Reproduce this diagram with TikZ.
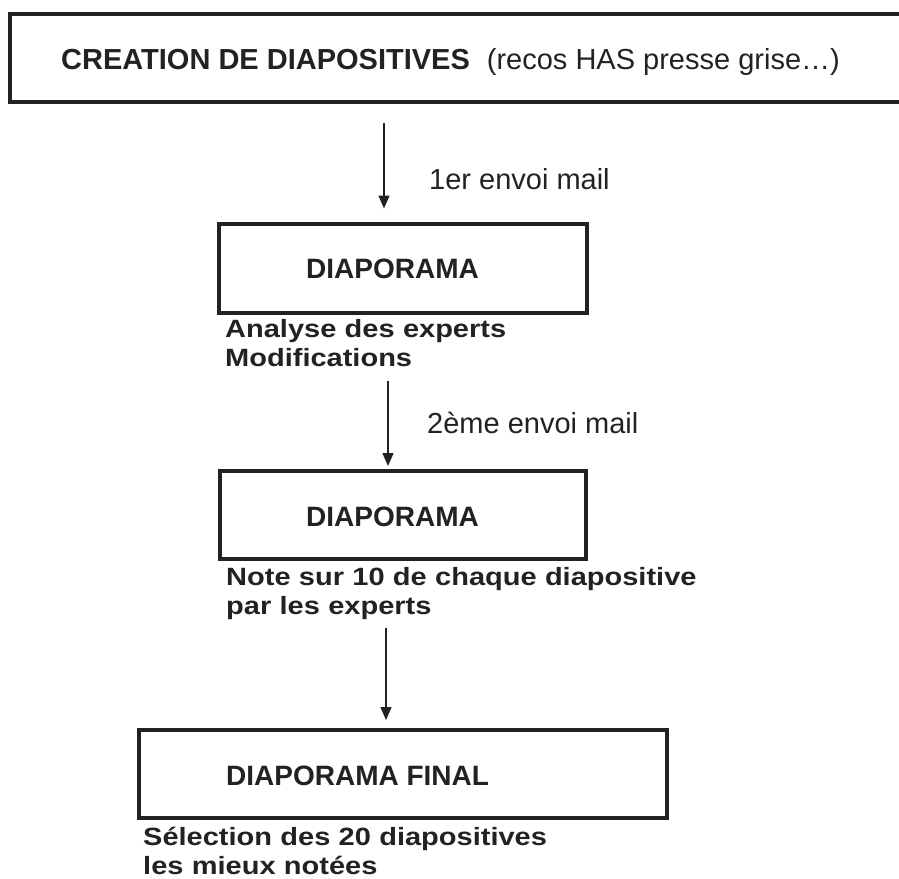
\documentclass[tikz,border=0pt]{standalone}
\usepackage{fontspec}
\setmainfont{Liberation Sans}
\newfontfamily\notefont[FakeStretch=1.16]{Liberation Sans}
\usetikzlibrary{arrows.meta}
\definecolor{ink}{HTML}{222222}
\tikzset{
  box/.style={draw=ink, line width=4pt, rectangle, inner sep=0pt},
  lbl/.style={anchor=base west, inner sep=0pt, text=ink, font=\fontsize{29}{29}\selectfont},
  ttl/.style={lbl, font=\fontsize{28}{28}\selectfont\bfseries},
  note/.style={lbl, font=\notefont\fontsize{25}{29}\selectfont\bfseries, text width=560pt, align=left},
  arr/.style={draw=ink, line width=1.5pt, -{Triangle[length=13pt,width=11pt]}}
}
\begin{document}
\begin{tikzpicture}[x=1pt,y=-1pt]
\useasboundingbox (0,0) rectangle (899,878);
\clip (0,0) rectangle (899,878);
% boxes
\node[box, minimum width=940pt, minimum height=88pt] (b1) at (480,57.5) {};
\node[box, minimum width=368pt, minimum height=89pt] (b2) at (403,268) {};
\node[box, minimum width=366pt, minimum height=88pt] (b3) at (403,515) {};
\node[box, minimum width=528pt, minimum height=88pt] (b4) at (403,774) {};
% titles
\node[lbl] (t1) at (61,69) {\textbf{CREATION DE DIAPOSITIVES}\hspace{17pt}(recos HAS presse grise\ldots)};
\node[ttl] (t2) at (306,278) {DIAPORAMA};
\node[ttl] (t3) at (306,526) {DIAPORAMA};
\node[ttl] (t4) at (226,785) {DIAPORAMA FINAL};
% notes under boxes
\node[note] (n2) at (225,337) {Analyse des experts\\Modifications};
\node[note] (n3) at (226,585) {Note sur 10 de chaque diapositive\\par les experts};
\node[note] (n4) at (143,845) {Sélection des 20 diapositives\\les mieux notées};
% arrows
\draw[arr, shorten <=19.5pt, shorten >=13pt] ([xshift=-19pt]b2.north |- b1.south) -- ([xshift=-19pt]b2.north);
\draw[arr, shorten <=66pt, shorten >=3pt] ([xshift=-15pt]b2.south) -- ([xshift=-15pt]b3.north);
\draw[arr, shorten <=67pt, shorten >=8pt] ([xshift=-17pt]b3.south) -- ([xshift=-17pt]b4.north);
% arrow labels
\node[lbl] (l1) at (429,189) {1er envoi mail};
\node[lbl] (l2) at (427,433) {2ème envoi mail};
\end{tikzpicture}
\end{document}
